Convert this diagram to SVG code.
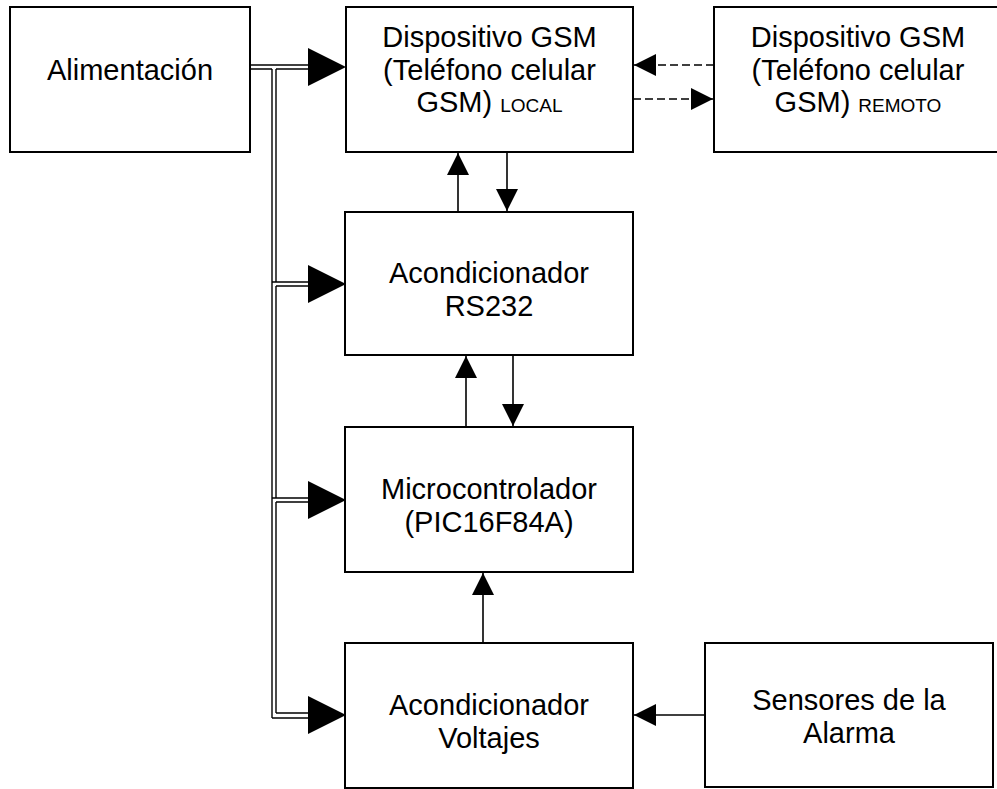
<svg xmlns="http://www.w3.org/2000/svg" width="997" height="789" viewBox="0 0 997 789">
  <style>
    .box { fill: #ffffff; stroke: #000000; stroke-width: 2; }
    .lbl { font-family: "Liberation Sans", Arial, sans-serif; font-size: 29px; fill: #000000; text-anchor: middle; }
    .sc { font-size: 19px; }
    .wire { fill: none; stroke: #000000; stroke-width: 1.6; }
    .bus { fill: none; stroke: #000000; stroke-width: 1.4; }
    .dash { fill: none; stroke: #000000; stroke-width: 1.6; stroke-dasharray: 8 4; }
    .head { fill: #000000; }
  </style>
  <defs>
    <marker id="tip" viewBox="0 0 22 22" refX="22" refY="11" markerWidth="22" markerHeight="22" markerUnits="userSpaceOnUse" orient="auto">
      <path d="M0,0 L22,11 L0,22 z" fill="#000000"/>
    </marker>
    <!-- large power-feed arrowhead, tip at origin pointing right -->
    <path id="feedHead" class="head" d="M-38,-19 L0,0 L-38,19 z"/>
  </defs>

  <rect width="997" height="789" fill="#ffffff"/>

  <g id="connectors">
    <!-- power bus: double line from Alimentación down the left side -->
    <g id="power-bus">
      <path class="bus" d="M250,65 H309"/>
      <path class="bus" d="M250,69 H272 M276,69 H309"/>
      <path class="bus" d="M272,69 V718"/>
      <path class="bus" d="M276,69 V282 M276,286 V498 M276,502 V713"/>
      <path class="bus" d="M272,282 H309 M276,286 H309"/>
      <path class="bus" d="M272,498 H309 M276,502 H309"/>
      <path class="bus" d="M276,713 H309 M272,718 H309"/>
      <use href="#feedHead" x="346" y="67"/>
      <use href="#feedHead" x="346" y="284"/>
      <use href="#feedHead" x="346" y="500"/>
      <use href="#feedHead" x="346" y="715"/>
    </g>
    <!-- data links -->
    <path class="wire" d="M458,212 V153" marker-end="url(#tip)"/>
    <path class="wire" d="M507,152 V211" marker-end="url(#tip)"/>
    <path class="wire" d="M466,427 V356" marker-end="url(#tip)"/>
    <path class="wire" d="M513,355 V426" marker-end="url(#tip)"/>
    <path class="wire" d="M483,643 V573" marker-end="url(#tip)"/>
    <path class="wire" d="M705,715 H634" marker-end="url(#tip)"/>
    <!-- wireless GSM link -->
    <path class="dash" d="M714,65 H634" marker-end="url(#tip)"/>
    <path class="dash" d="M633,99 H713" marker-end="url(#tip)"/>
  </g>

  <g id="alimentacion">
    <rect class="box" x="10" y="7" width="240" height="145"/>
    <text class="lbl" x="130" y="80">Alimentación</text>
  </g>

  <g id="gsm-local">
    <rect class="box" x="346" y="7" width="287" height="145"/>
    <text class="lbl" x="489.5" y="47">Dispositivo GSM</text>
    <text class="lbl" x="489.5" y="80">(Teléfono celular</text>
    <text class="lbl" x="489.5" y="112">GSM) <tspan class="sc">LOCAL</tspan></text>
  </g>

  <g id="gsm-remoto">
    <rect class="box" x="714" y="7" width="288" height="145"/>
    <text class="lbl" x="858" y="47">Dispositivo GSM</text>
    <text class="lbl" x="858" y="80">(Teléfono celular</text>
    <text class="lbl" x="858" y="112">GSM) <tspan class="sc">REMOTO</tspan></text>
  </g>

  <g id="rs232">
    <rect class="box" x="345" y="212" width="288" height="143"/>
    <text class="lbl" x="489" y="283">Acondicionador</text>
    <text class="lbl" x="489" y="316">RS232</text>
  </g>

  <g id="microcontrolador">
    <rect class="box" x="345" y="427" width="288" height="145"/>
    <text class="lbl" x="489" y="499">Microcontrolador</text>
    <text class="lbl" x="489" y="532">(PIC16F84A)</text>
  </g>

  <g id="voltajes">
    <rect class="box" x="345" y="643" width="288" height="145"/>
    <text class="lbl" x="489" y="715">Acondicionador</text>
    <text class="lbl" x="489" y="748">Voltajes</text>
  </g>

  <g id="sensores">
    <rect class="box" x="705" y="643" width="288" height="144"/>
    <text class="lbl" x="849" y="710">Sensores de la</text>
    <text class="lbl" x="849" y="743">Alarma</text>
  </g>
</svg>
